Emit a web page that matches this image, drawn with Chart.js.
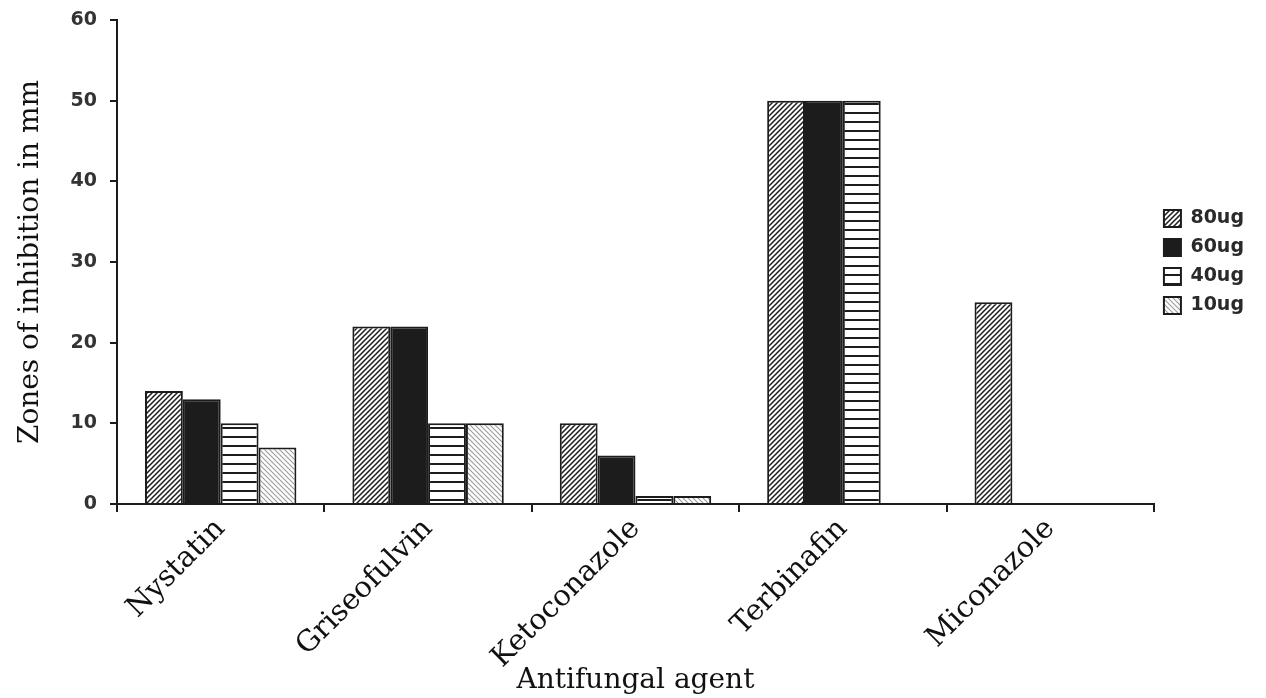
<!DOCTYPE html>
<html lang="en">
<head>
  <meta charset="UTF-8">
  <title>Zones of inhibition</title>
  <script src="https://cdn.jsdelivr.net/npm/chart.js"></script>
  <style>
    html, body { margin: 0; padding: 0; background: #fff; }
    canvas { display: block; }
  </style>
</head>
<body>

<canvas id="chart" width="1266" height="698"></canvas>

<script>
  // data
  const agents = ['Nystatin', 'Griseofulvin', 'Ketoconazole', 'Terbinafin', 'Miconazole'];
  const dose80 = [14, 22, 10, 50, 25];
  const dose60 = [13, 22, 6, 50, null];
  const dose40 = [10, 10, 1, 50, null];
  const dose10 = [7, 10, 1, null, null];
  const yTicks = [0, 10, 20, 30, 40, 50, 60];

  const ink = '#1c1c1c';
  const serif = 'DejaVu Serif';

  // little fill tiles for the hatched bars
  function hatch(kind) {
    const c = document.createElement('canvas');
    const g = c.getContext('2d');
    const n = kind === 'lines' ? 9 : 5;
    c.width = c.height = n;
    g.fillStyle = '#fff';
    g.fillRect(0, 0, n, n);
    if (kind === 'lines') {
      g.fillStyle = ink;
      g.fillRect(0, 4, n, 2);
    } else {
      g.strokeStyle = kind === 'fwd' ? ink : '#9a9a9a';
      g.lineWidth = kind === 'fwd' ? 1.5 : 1.1;
      g.beginPath();
      if (kind === 'fwd') {
        g.moveTo(-1, n + 1); g.lineTo(n + 1, -1);
        g.moveTo(-1, 1); g.lineTo(1, -1);
        g.moveTo(n - 1, n + 1); g.lineTo(n + 1, n - 1);
      } else {
        g.moveTo(-1, -1); g.lineTo(n + 1, n + 1);
        g.moveTo(-1, n - 1); g.lineTo(1, n + 1);
        g.moveTo(n - 1, -1); g.lineTo(n + 1, 1);
      }
      g.stroke();
    }
    return g.createPattern(c, 'repeat');
  }

  function series(label, data, fill) {
    return {
      label: label,
      data: data,
      backgroundColor: fill,
      borderColor: ink,
      borderWidth: 2,
      borderSkipped: 'bottom',
      barPercentage: 1,
      categoryPercentage: 0.73
    };
  }

  const ctx = document.getElementById('chart').getContext('2d');
  new Chart(ctx, {
    type: 'bar',
    data: {
      labels: agents,
      datasets: [
        series('80ug', dose80, hatch('fwd')),
        series('60ug', dose60, ink),
        series('40ug', dose40, hatch('lines')),
        series('10ug', dose10, hatch('back'))
      ]
    },
    options: {
      responsive: false,
      animation: false,
      layout: { padding: { top: 0, right: 12, bottom: 0, left: 0 } },
      plugins: {
        tooltip: { enabled: false },
        legend: {
          position: 'right',
          fullSize: false,
          labels: {
            boxWidth: 17,
            boxHeight: 17,
            padding: 10,
            color: '#2a2a2a',
            font: { family: 'DejaVu Sans', size: 19, weight: 'bold' }
          }
        }
      },
      scales: {
        x: {
          grid: { drawOnChartArea: false, offset: true, color: ink, lineWidth: 2, tickLength: 8 },
          border: { color: ink, width: 2 },
          ticks: {
            color: '#111',
            font: { family: serif, size: 29 },
            minRotation: 45,
            maxRotation: 45,
            padding: 0
          },
          title: {
            display: true,
            text: 'Antifungal agent',
            color: '#111',
            font: { family: serif, size: 28 },
            padding: 0
          },
          afterFit: s => { s.height = 194; }
        },
        y: {
          min: 0,
          max: 60,
          afterBuildTicks: s => { s.ticks = yTicks.map(v => ({ value: v })); },
          grid: { drawOnChartArea: false, color: ink, lineWidth: 2, tickLength: 7 },
          border: { color: ink, width: 2 },
          ticks: {
            color: '#333',
            font: { family: 'DejaVu Sans', size: 19, weight: 'bold' },
            padding: 13
          },
          title: {
            display: true,
            text: 'Zones of inhibition in mm',
            color: '#111',
            font: { family: serif, size: 28 },
            padding: { top: 14, bottom: 0 }
          },
          afterFit: s => { s.width = 117; s.paddingTop = 20; }
        }
      }
    }
  });
</script>
</body>
</html>
